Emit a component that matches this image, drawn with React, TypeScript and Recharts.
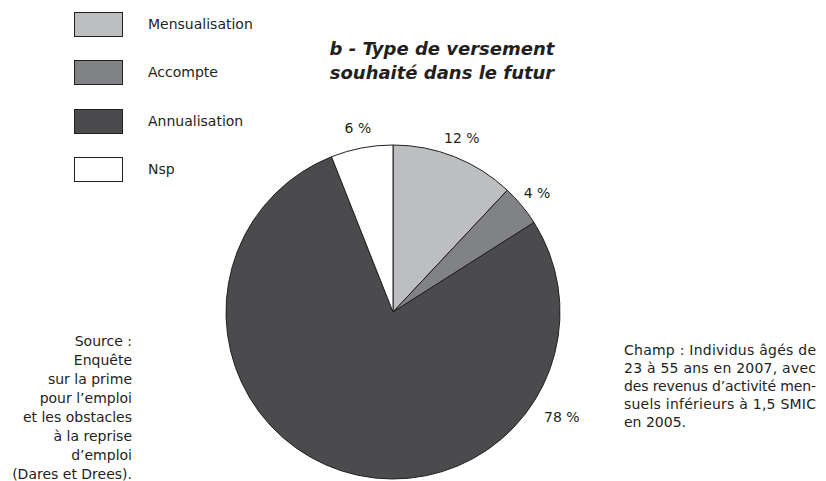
import React from 'react';
import { PieChart, Pie, Cell } from 'recharts';

const categories = ['Mensualisation', 'Accompte', 'Annualisation', 'Nsp'];
const shares = [12, 4, 78, 6];
const colors = ['#bcbec0', '#808285', '#4b4b4d', '#ffffff'];
const titleLines = ['b - Type de versement', 'souhaité dans le futur'];
const sourceLines = ['Source :', 'Enquête', 'sur la prime', "pour l\u2019emploi", 'et les obstacles', 'à la reprise', "d\u2019emploi", '(Dares et Drees).'];
const champLines = ['Champ : Individus âgés de', '23 à 55 ans en 2007, avec', "des revenus d\u2019activité men-", 'suels inférieurs à 1,5 SMIC', 'en 2005.'];

const data = categories.map((name, i) => ({ name, value: shares[i] }));

const FONT = '"DejaVu Sans", sans-serif';
const RAD = Math.PI / 180;

const renderLabel = (props: any) => {
  const { cx, cy, midAngle, outerRadius, index, value } = props;
  let angle = midAngle;
  let dist = outerRadius + 20;
  if (categories[index] === 'Annualisation') {
    angle = -32;
    dist = outerRadius + 32;
  }
  const x = cx + dist * Math.cos(angle * RAD);
  const y = cy - dist * Math.sin(angle * RAD);
  return (
    <text x={x} y={y} textAnchor="middle" dominantBaseline="central" fill="#231f20" fontSize={14} fontFamily={FONT}>
      {`${value} %`}
    </text>
  );
};

const LegendBlock = () => (
  <div style={{ position: 'absolute', left: 74, top: 12, fontFamily: FONT, fontSize: 14, color: '#231f20' }}>
    {categories.map((c, i) => (
      <div key={c} style={{ display: 'flex', alignItems: 'center', height: 25, marginBottom: 23.3 }}>
        <div style={{ width: 47, height: 23, background: colors[i], border: '1px solid #231f20' }} />
        <div style={{ marginLeft: 25, lineHeight: '25px' }}>{c}</div>
      </div>
    ))}
  </div>
);

export default function App() {
  return (
    <div style={{ position: 'absolute', left: 0, top: 0, width: 826, height: 481, background: '#fff', overflow: 'hidden' }}>
      <PieChart width={826} height={481} margin={{ top: 0, right: 0, bottom: 0, left: 0 }}>
        <Pie
          data={data}
          dataKey="value"
          nameKey="name"
          cx={393}
          cy={312}
          outerRadius={167}
          startAngle={90}
          endAngle={-270}
          stroke="#231f20"
          strokeWidth={1}
          label={renderLabel}
          labelLine={false}
          isAnimationActive={false}
        >
          {data.map((d, i) => (
            <Cell key={d.name} fill={colors[i]} />
          ))}
        </Pie>
      </PieChart>
      <LegendBlock />
      <svg width={826} height={481} style={{ position: 'absolute', left: 0, top: 0, pointerEvents: 'none' }}>
        {titleLines.map((t, i) => (
          <text key={t} x={442} y={55 + i * 24} textAnchor="middle" fontFamily={FONT} fontWeight="bold" fontStyle="italic" fontSize={18} fill="#231f20">
            {t}
          </text>
        ))}
        {sourceLines.map((t, i) => (
          <text key={t} x={132} y={346 + i * 19} textAnchor="end" fontFamily={FONT} fontSize={14} fill="#231f20">
            {t}
          </text>
        ))}
        {champLines.map((t, i) => (
          <text
            key={t}
            x={624}
            y={355 + i * 18.1}
            fontFamily={FONT}
            fontSize={14}
            fill="#231f20"
            {...(i < champLines.length - 1 ? { textLength: 192, lengthAdjust: 'spacing' } : {})}
          >
            {t}
          </text>
        ))}
      </svg>
    </div>
  );
}
